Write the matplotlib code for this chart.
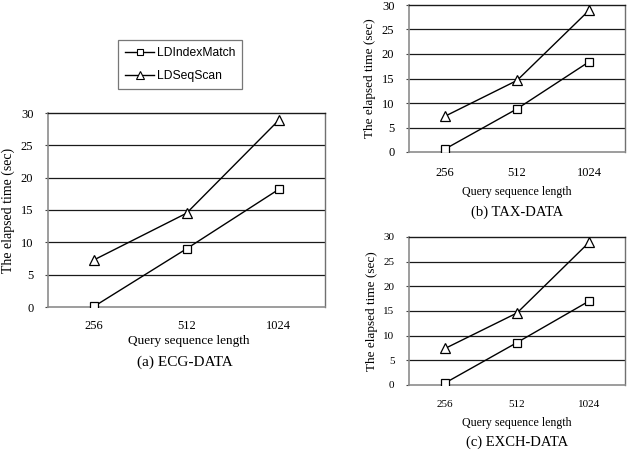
import matplotlib.pyplot as plt
from matplotlib.lines import Line2D

query_lengths = ["256", "512", "1024"]
series_names = ["LDIndexMatch", "LDSeqScan"]

# elapsed time (sec) per dataset
ecg_index = [0.1, 9.0, 18.2]
ecg_scan = [7.3, 14.5, 28.9]
tax_index = [0.6, 8.8, 18.4]
tax_scan = [7.3, 14.6, 28.9]
exch_index = [0.4, 8.6, 17.0]
exch_scan = [7.4, 14.6, 28.9]

panel_titles = ["(a) ECG-DATA", "(b) TAX-DATA", "(c) EXCH-DATA"]

plt.rcParams['font.family'] = ['Liberation Serif', 'DejaVu Serif']

W, H = 627, 451
fig = plt.figure(figsize=(W / 100, H / 100), dpi=100)


def px_axes(left, top, right, bottom):
    return fig.add_axes([left / W, 1 - bottom / H, (right - left) / W, (bottom - top) / H])


def px_text(x, y, s, size):
    fig.text(x / W, 1 - y / H, s, ha='center', va='center', fontsize=size)


def draw_panel(ax, idx_vals, scan_vals, tick_fs, ylabel_fs, xtick_pad):
    x = range(len(query_lengths))
    ax.set_xlim(-0.5, len(query_lengths) - 0.5)
    ax.set_ylim(0, 30)
    ax.set_yticks(range(0, 31, 5))
    for yv in range(5, 30, 5):
        ax.axhline(yv, color='#1a1a1a', lw=0.9, zorder=1)
    ax.plot(x, idx_vals, color='black', lw=1.0, marker='s', ms=6.2,
            mfc='white', mec='black', mew=0.9, zorder=3)
    ax.plot(x, scan_vals, color='black', lw=1.0, marker='^', ms=7.5,
            mfc='white', mec='black', mew=0.9, zorder=3)
    ax.set_xticks(list(x))
    ax.set_xticklabels(query_lengths)
    ax.tick_params(axis='x', length=0, pad=xtick_pad, labelsize=tick_fs)
    ax.tick_params(axis='y', length=2.5, width=0.8, color='#444444', pad=8, labelsize=tick_fs)
    for s in ['left', 'bottom']:
        ax.spines[s].set_color('#8c8c8c')
        ax.spines[s].set_linewidth(1.2)
    ax.spines['right'].set_color('#707070')
    ax.spines['right'].set_linewidth(1.0)
    ax.spines['top'].set_color('#1a1a1a')
    ax.spines['top'].set_linewidth(1.0)
    ax.set_ylabel("The elapsed time (sec)", fontsize=ylabel_fs, labelpad=4)


# (a) ECG-DATA
ax_a = px_axes(48, 113, 325, 307)
draw_panel(ax_a, ecg_index, ecg_scan, 9, 10, 9.5)
px_text(189, 341, "Query sequence length", 9.5)
px_text(185, 362, panel_titles[0], 11)

# (b) TAX-DATA
ax_b = px_axes(409, 5, 625, 152)
draw_panel(ax_b, tax_index, tax_scan, 9, 9.5, 10.5)
px_text(517, 192, "Query sequence length", 8.6)
px_text(517, 212, panel_titles[1], 10.5)

# (c) EXCH-DATA
ax_c = px_axes(409, 237, 625, 385)
draw_panel(ax_c, exch_index, exch_scan, 8, 9.5, 11)
px_text(517, 423, "Query sequence length", 8.6)
px_text(517, 442, panel_titles[2], 10.5)

handles = [
    Line2D([], [], color='black', lw=1.0, marker='s', ms=5, mfc='white', mec='black', mew=0.8),
    Line2D([], [], color='black', lw=1.0, marker='^', ms=5.5, mfc='white', mec='black', mew=0.8),
]
leg = fig.legend(handles, series_names, loc='upper left',
                 bbox_to_anchor=(118 / W, 1 - 40 / H), frameon=True, fancybox=False,
                 prop={'family': 'Liberation Sans', 'size': 8.7}, handlelength=2.4,
                 borderpad=0.6, labelspacing=0.9, handletextpad=0.2, borderaxespad=0)
leg.get_frame().set_edgecolor('#555555')
leg.get_frame().set_linewidth(0.9)

fig.savefig("out.png", dpi=100)
